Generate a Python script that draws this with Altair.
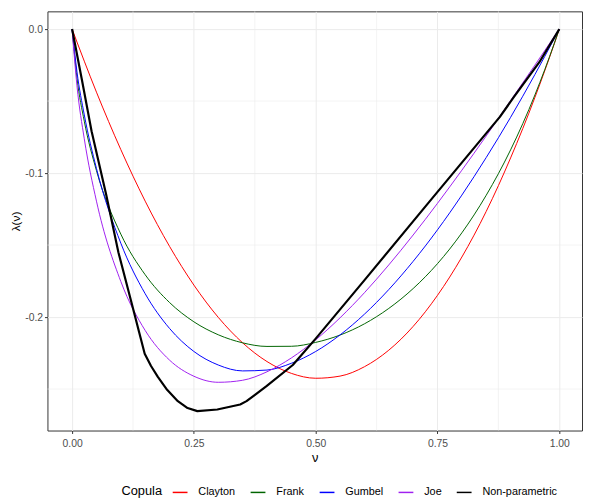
import altair as alt
import pandas as pd

# ---- data ----
v = [0, 0.01, 0.025, 0.05, 0.10, 0.15, 0.20, 0.25, 0.30, 0.35, 0.40, 0.45, 0.50,
     0.55, 0.60, 0.65, 0.70, 0.75, 0.80, 0.85, 0.90, 0.95, 0.99, 1.0]
clayton = [0, -0.0090, -0.0223, -0.0438, -0.0837, -0.1195, -0.1509, -0.1778, -0.2002, -0.2179,
           -0.2309, -0.2391, -0.2425, -0.2410, -0.2345, -0.2230, -0.2065, -0.1849, -0.1583,
           -0.1266, -0.0895, -0.0474, -0.0099, 0]
frank = [0, -0.0340, -0.0640, -0.0983, -0.1424, -0.1706, -0.1899, -0.2033, -0.2123, -0.2179,
         -0.2204, -0.2203, -0.2176, -0.2125, -0.2047, -0.1940, -0.1802, -0.1629, -0.1415,
         -0.1154, -0.0839, -0.0457, -0.0097, 0]
gumbel = [0, -0.0297, -0.0596, -0.0968, -0.1487, -0.1838, -0.2079, -0.2239, -0.2333, -0.2374,
          -0.2368, -0.2321, -0.2239, -0.2124, -0.1980, -0.1809, -0.1613, -0.1394, -0.1153,
          -0.0892, -0.0613, -0.0315, -0.0064, 0]
joe = [0, -0.0394, -0.0762, -0.1195, -0.1753, -0.2093, -0.2299, -0.2411, -0.2453, -0.2439,
       -0.2380, -0.2284, -0.2158, -0.2005, -0.1831, -0.1638, -0.1430, -0.1210, -0.0980,
       -0.0742, -0.0497, -0.0250, -0.0050, 0]
np_v = [0, 0.02, 0.04, 0.07, 0.095, 0.122, 0.138, 0.149, 0.162, 0.176, 0.195, 0.217, 0.237,
        0.257, 0.298, 0.345, 0.358, 0.399, 0.453, 0.50, 0.601, 0.733, 0.878, 0.905, 0.959, 1.0]
np_lam = [0, -0.035, -0.071, -0.115, -0.155, -0.190, -0.211, -0.2255, -0.234, -0.2415,
          -0.2505, -0.2584, -0.2632, -0.2653, -0.2642, -0.2607, -0.2584, -0.248, -0.2333,
          -0.215, -0.174, -0.120, -0.061, -0.048, -0.023, 0]

names = ["Clayton", "Frank", "Gumbel", "Joe", "Non-parametric"]
colors = ["#ff0000", "#006400", "#0000ff", "#a020f0", "#000000"]
widths = [1, 1, 1, 1, 2.2]

x_ticks = [0, 0.25, 0.5, 0.75, 1.0]
y_ticks = [0, -0.1, -0.2]
x_minor = [0.125, 0.375, 0.625, 0.875]
y_minor = [-0.05, -0.15, -0.25]

rows = []
for name, w, ys in zip(names[:4], widths[:4], [clayton, frank, gumbel, joe]):
    for i, (a, b) in enumerate(zip(v, ys)):
        rows.append({"Copula": name, "v": a, "lam": b, "i": i, "w": w})
df_par = pd.DataFrame(rows)
df_np = pd.DataFrame({"Copula": "Non-parametric", "v": np_v, "lam": np_lam,
                      "i": list(range(len(np_v))), "w": widths[4]})

xs = alt.Scale(domain=[-0.0506, 1.0466], nice=False, zero=False)
ys_ = alt.Scale(domain=[-0.2788, 0.0123], nice=False, zero=False)
x_axis = alt.Axis(values=x_ticks, format=".2f", title="ν", titlePadding=3, labelPadding=5)
y_axis = alt.Axis(values=y_ticks, title="λ(ν)", titlePadding=2, labelPadding=2,
                  titleFontSize=12,
                  labelExpr="replace(format(datum.value, '.1f'), '\u2212', '-')")
color = alt.Color("Copula:N", scale=alt.Scale(domain=names, range=colors),
                  legend=alt.Legend(title="Copula"))

par = alt.Chart(df_par).mark_line(interpolate="monotone").encode(
    x=alt.X("v:Q", scale=xs, axis=x_axis),
    y=alt.Y("lam:Q", scale=ys_, axis=y_axis),
    color=color,
    strokeWidth=alt.StrokeWidth("w:Q", scale=None),
    order="i:Q",
)
nonpar = alt.Chart(df_np).mark_line(interpolate="linear", strokeJoin="round").encode(
    x=alt.X("v:Q", scale=xs, axis=x_axis),
    y=alt.Y("lam:Q", scale=ys_, axis=y_axis),
    color=color,
    strokeWidth=alt.StrokeWidth("w:Q", scale=None),
    order="i:Q",
)

minor_x = alt.Chart(pd.DataFrame({"v": x_minor})).mark_rule(
    color="#ebebeb", strokeWidth=0.6).encode(x=alt.X("v:Q", scale=xs, axis=x_axis))
minor_y = alt.Chart(pd.DataFrame({"lam": y_minor})).mark_rule(
    color="#ebebeb", strokeWidth=0.6).encode(y=alt.Y("lam:Q", scale=ys_, axis=y_axis))

chart = alt.layer(minor_x, minor_y, par, nonpar).properties(
    width=542, height=425,
    autosize="none",
    padding={"left": 40, "top": 0, "right": 1, "bottom": 65},
).configure_view(
    stroke="#333333", strokeWidth=1
).configure_axis(
    domain=False,
    grid=True,
    gridColor="#ebebeb",
    gridWidth=1,
    tickColor="#333333",
    tickSize=3,
    labelFont="Liberation Sans",
    labelFontSize=10.5,
    labelColor="#4d4d4d",
    titleFont="Liberation Sans",
    titleFontSize=13,
    titleFontWeight="normal",
    titleColor="#000000",
).configure_legend(
    orient="none",
    direction="horizontal",
    legendX=75,
    legendY=479,
    titleOrient="left",
    titleFont="Liberation Sans",
    titleFontSize=13,
    titleFontWeight="normal",
    titleColor="#000000",
    titlePadding=9,
    labelFont="Liberation Sans",
    labelFontSize=11,
    labelColor="#000000",
    labelOffset=10,
    columnPadding=12,
    symbolType="stroke",
    symbolSize=225,
    symbolStrokeWidth=1.5,
)

chart.save("out.html", embed_options={"renderer": "svg", "actions": False})
